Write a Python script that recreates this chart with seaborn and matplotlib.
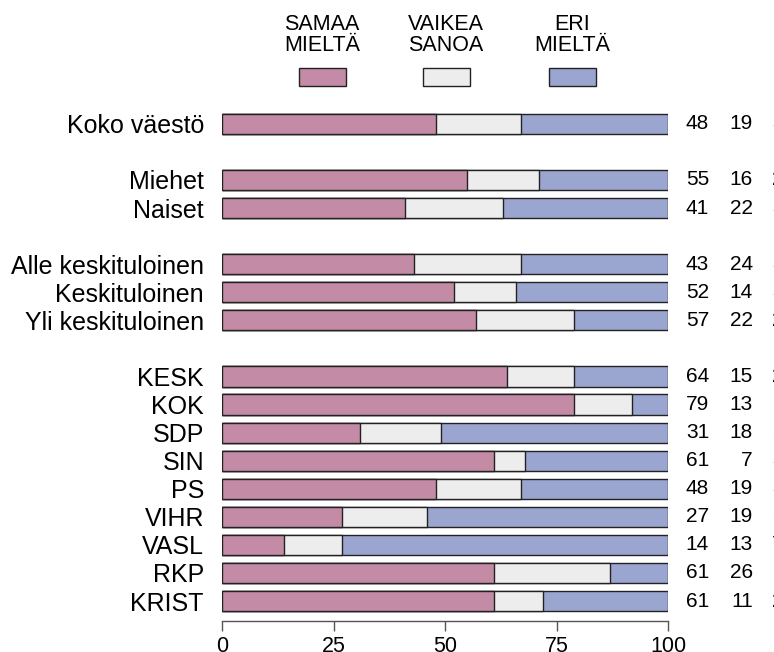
import pandas as pd
import seaborn as sns
import matplotlib.pyplot as plt
from matplotlib.patches import Rectangle

# data (percent)
groups = ["Koko väestö",
          "Miehet", "Naiset",
          "Alle keskituloinen", "Keskituloinen", "Yli keskituloinen",
          "KESK", "KOK", "SDP", "SIN", "PS", "VIHR", "VASL", "RKP", "KRIST"]
# row slots, with an empty slot between groups
slots = [0, 2, 3, 5, 6, 7, 9, 10, 11, 12, 13, 14, 15, 16, 17]
samaa = [48, 55, 41, 43, 52, 57, 64, 79, 31, 61, 48, 27, 14, 61, 61]
vaikea = [19, 16, 22, 24, 14, 22, 15, 13, 18, 7, 19, 19, 13, 26, 11]
eri = [33, 29, 37, 33, 34, 21, 21, 8, 51, 32, 33, 54, 73, 13, 28]
legend_labels = ["SAMAA\nMIELTÄ", "VAIKEA\nSANOA", "ERI\nMIELTÄ"]
colors = ["#C48BA6", "#EDEDED", "#9BA6D0"]

df = pd.DataFrame({"group": groups, "pos": slots,
                   "samaa": samaa, "vaikea": vaikea, "eri": eri})
df["c1"] = df["samaa"]
df["c2"] = df["samaa"] + df["vaikea"]
df["c3"] = df["samaa"] + df["vaikea"] + df["eri"]

sns.set_theme(style="white")
plt.rcParams["font.family"] = ["Liberation Sans", "DejaVu Sans"]
plt.rcParams["text.color"] = "black"
plt.rcParams["xtick.color"] = "black"
plt.rcParams["ytick.color"] = "black"

fig = plt.figure(figsize=(7.74, 6.52), dpi=100)
ax = fig.add_axes([222 / 774, 31 / 652, 446 / 774, 514 / 652])

# stacked by layering cumulative bars: widest first
for col, c in zip(["c3", "c2", "c1"], colors[::-1]):
    sns.barplot(data=df, x=col, y="pos", orient="y", native_scale=True,
                color=c, width=0.72, edgecolor="#222222", linewidth=1.0,
                saturation=1, ax=ax)

ax.set_xlim(0, 100)
ax.set_ylim(17.71, -0.6)
ax.set_yticks(slots)
ax.set_yticklabels(groups, fontsize=18)
ax.tick_params(axis="y", length=0, pad=13)
ax.set_xticks([0, 25, 50, 75, 100])
ax.tick_params(axis="x", length=7, width=1, color="#555555", labelsize=15.5, pad=4,
               direction="out", bottom=True)
ax.set_xlabel("")
ax.set_ylabel("")
for s in ["top", "right", "left"]:
    ax.spines[s].set_visible(False)
ax.spines["bottom"].set_color("#555555")
ax.spines["bottom"].set_linewidth(1)

# numbers at the right (third column runs off the edge, as in the source)
for _, r in df.iterrows():
    for xv, val in zip([109.2, 119.0, 128.6], [r["samaa"], r["vaikea"], r["eri"]]):
        ax.text(xv, r["pos"], f"{val}", ha="right", va="center",
                fontsize=15, clip_on=False)

# legend on top
W, H = 774, 652
for cx, lab, c in zip([322, 446, 572], legend_labels, colors):
    fig.text(cx / W, (H - 56) / H, lab, ha="center", va="bottom",
             fontsize=15.5, linespacing=1.0)
    fig.add_artist(Rectangle(((cx - 23.5) / W, (H - 86) / H), 47 / W, 18 / H,
                             transform=fig.transFigure, facecolor=c,
                             edgecolor="#222222", linewidth=1.0))

fig.savefig("out.png", dpi=100)
